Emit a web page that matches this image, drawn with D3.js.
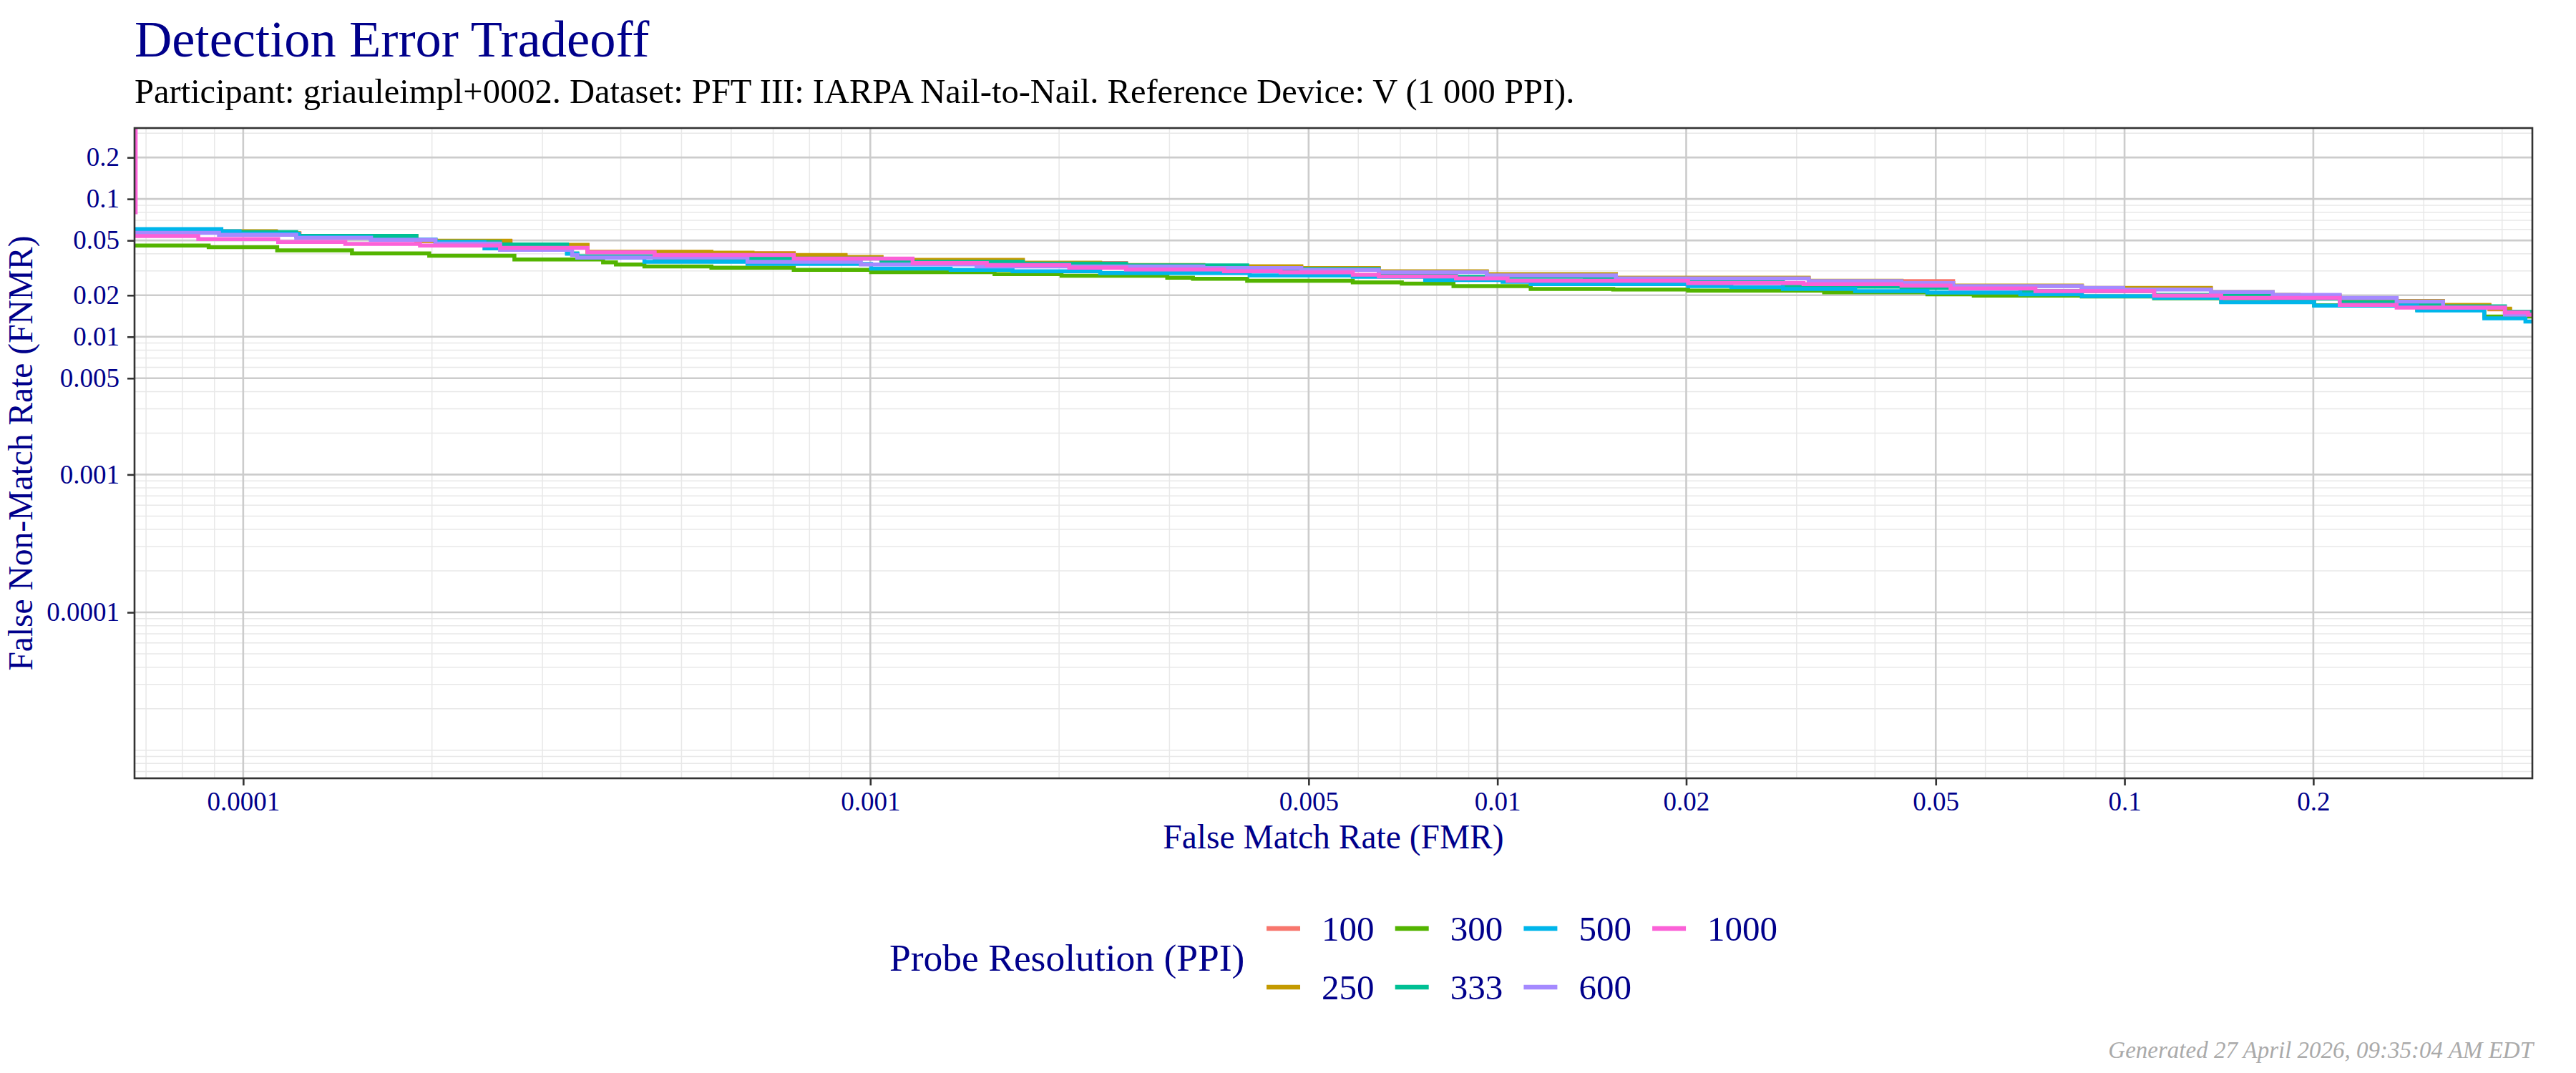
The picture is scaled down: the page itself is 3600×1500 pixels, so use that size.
<!DOCTYPE html>
<html>
<head>
<meta charset="utf-8">
<script src="https://cdn.jsdelivr.net/npm/d3@7"></script>
<style>
  body { margin: 0; background: #fff; }
  svg text { font-family: "Liberation Serif", "Times New Roman", serif; }
</style>
</head>
<body>
<div id="chart"></div>
<script>
// categories and colours (ggplot hue palette)
const probeResolutions = ["100", "250", "300", "333", "500", "600", "1000"];
const seriesColors = ["#F8766D", "#C49A00", "#53B400", "#00C094", "#00B6EB", "#A58AFF", "#FB61D7"];

// tick labels
const xTicks = [0.0001, 0.001, 0.005, 0.01, 0.02, 0.05, 0.1, 0.2];
const yTicks = [0.0001, 0.001, 0.005, 0.01, 0.02, 0.05, 0.1, 0.2];
const xDomain = [6.71e-5, 0.447];
const yDomain = [6.25e-6, 0.327];

// DET curves, [FMR, FNMR]
const det100 = [[6.72e-5,0.0592],[9.0e-5,0.0578],[1.13e-4,0.0562],[1.23e-4,0.0535],[1.89e-4,0.0494],[2.67e-4,0.0462],[3.54e-4,0.0412],[5.58e-4,0.0404],[7.55e-4,0.0390],[9.13e-4,0.0377],[1.042e-3,0.0358],[1.751e-3,0.0343],[2.557e-3,0.0329],[3.397e-3,0.0322],[4.867e-3,0.0312],[6.47e-3,0.0297],[9.62e-3,0.0283],[1.545e-2,0.0266],[3.136e-2,0.0253],[5.33e-2,0.0234],[8.55e-2,0.0224],[0.1373,0.0210],[0.1723,0.0199],[0.2204,0.0187],[0.2716,0.0180],[0.322,0.0169],[0.3818,0.0158],[0.4119,0.0149],[0.447,0.0149]];
const det250 = [[6.72e-5,0.0595],[8.98e-5,0.0583],[1.127e-4,0.0565],[1.227e-4,0.0538],[1.889e-4,0.0497],[2.667e-4,0.0465],[3.541e-4,0.0414],[5.58e-4,0.0407],[6.49e-4,0.0403],[7.55e-4,0.0392],[9.13e-4,0.0379],[1.042e-3,0.0361],[1.751e-3,0.0345],[2.326e-3,0.0338],[2.557e-3,0.0331],[3.397e-3,0.0325],[4.867e-3,0.0315],[6.47e-3,0.0299],[9.62e-3,0.0285],[1.545e-2,0.0268],[3.136e-2,0.0255],[4.41e-2,0.0245],[5.33e-2,0.0235],[8.55e-2,0.0226],[0.1373,0.0211],[0.1723,0.0201],[0.1894,0.0195],[0.2204,0.0189],[0.2716,0.0182],[0.322,0.0170],[0.3818,0.0160],[0.4119,0.0150],[0.447,0.0150]];
const det300 = [[6.72e-5,0.0459],[8.81e-5,0.0447],[1.133e-4,0.0424],[1.491e-4,0.0403],[1.98e-4,0.0387],[2.707e-4,0.0364],[3.749e-4,0.0347],[3.93e-4,0.0334],[4.363e-4,0.0324],[5.58e-4,0.0317],[7.55e-4,0.0306],[1.003e-3,0.0294],[1.578e-3,0.0285],[2.018e-3,0.0277],[2.975e-3,0.0268],[3.27e-3,0.0263],[3.99e-3,0.0255],[5.88e-3,0.0248],[7.04e-3,0.0243],[8.51e-3,0.0233],[1.13e-2,0.0222],[1.53e-2,0.0220],[2.014e-2,0.0216],[3.319e-2,0.0210],[4.849e-2,0.0203],[5.75e-2,0.0199],[8.55e-2,0.0196],[0.1115,0.0190],[0.1426,0.0179],[0.2006,0.0169],[0.2929,0.0157],[0.3747,0.0140],[0.447,0.0140]];
const det333 = [[6.72e-5,0.0595],[9.15e-5,0.0575],[1.215e-4,0.0540],[1.889e-4,0.0505],[2.026e-4,0.0488],[2.568e-4,0.0467],[3.284e-4,0.0403],[3.41e-4,0.0384],[4.531e-4,0.0369],[1.042e-3,0.0350],[1.751e-3,0.0339],[2.557e-3,0.0330],[3.99e-3,0.0310],[6.47e-3,0.0285],[8.59e-3,0.0272],[1.378e-2,0.0263],[2.014e-2,0.0251],[2.853e-2,0.0231],[4.41e-2,0.0226],[6.82e-2,0.0214],[0.1115,0.0201],[0.1723,0.0189],[0.2204,0.0178],[0.2716,0.0173],[0.322,0.0166],[0.4042,0.0152],[0.447,0.0152]];
const det500 = [[6.72e-5,0.0605],[9.23e-5,0.0583],[9.87e-5,0.0560],[1.227e-4,0.0528],[1.599e-4,0.0507],[2.026e-4,0.0488],[2.425e-4,0.0438],[2.667e-4,0.0427],[3.284e-4,0.0400],[3.41e-4,0.0376],[4.363e-4,0.0350],[6.37e-4,0.0337],[1.003e-3,0.0312],[1.343e-3,0.0306],[1.686e-3,0.0299],[2.326e-3,0.0290],[4.027e-3,0.0279],[5.88e-3,0.0272],[7.67e-3,0.0258],[1.019e-2,0.0250],[1.13e-2,0.0241],[2.014e-2,0.0233],[2.361e-2,0.0229],[2.853e-2,0.0222],[3.719e-2,0.0214],[4.849e-2,0.0209],[6.82e-2,0.0203],[8.55e-2,0.0197],[0.1115,0.0191],[0.1426,0.0178],[0.2006,0.0168],[0.2929,0.0155],[0.3747,0.0136],[0.4358,0.0129],[0.447,0.0129]];
const det600 = [[6.72e-5,0.0567],[9.15e-5,0.0549],[1.215e-4,0.0522],[1.599e-4,0.0505],[2.026e-4,0.0474],[2.568e-4,0.0427],[3.346e-4,0.0392],[3.41e-4,0.0376],[6.37e-4,0.0350],[9.66e-4,0.0334],[1.477e-3,0.0324],[3.397e-3,0.0315],[4.867e-3,0.0306],[6.47e-3,0.0294],[9.62e-3,0.0279],[1.545e-2,0.0265],[3.136e-2,0.0253],[4.41e-2,0.0245],[5.33e-2,0.0233],[8.55e-2,0.0226],[9.95e-2,0.0220],[0.1373,0.0211],[0.1723,0.0201],[0.2204,0.0191],[0.2716,0.0180],[0.322,0.0163],[0.4042,0.0145],[0.447,0.0145]];
const det1000 = [[6.60e-5,0.5],[6.738e-5,0.080],[6.60e-5,0.0538],[8.48e-5,0.0511],[1.137e-4,0.0488],[1.455e-4,0.0472],[1.914e-4,0.0459],[2.568e-4,0.0441],[3.541e-4,0.0410],[4.531e-4,0.0392],[7.55e-4,0.0369],[1.168e-3,0.0343],[1.534e-3,0.0331],[2.076e-3,0.0317],[2.557e-3,0.0308],[3.664e-3,0.0299],[4.511e-3,0.0293],[5.88e-3,0.0282],[6.47e-3,0.0274],[8.59e-3,0.0265],[1.038e-2,0.0255],[2.014e-2,0.0245],[3.077e-2,0.0241],[4.41e-2,0.0235],[5.279e-2,0.0224],[7.21e-2,0.0214],[0.1115,0.0199],[0.1426,0.0191],[0.2204,0.0170],[0.2716,0.0163],[0.4042,0.0150],[0.440,0.0145],[0.447,0.0145]];
const allSeries = [det100, det250, det300, det333, det500, det600, det1000];

function render(){
  let width = 3600, height = 1500,
      margin = { top:179, left:188, right:61, bottom:412 },
      innerWidth = width - margin.left - margin.right,
      innerHeight = height - margin.top - margin.bottom;
  const navy = "#00008B";

  let svg = d3.select("#chart").append("svg")
    .attr("width", width).attr("height", height)
    .style("background", "#fff")

  // titles
  svg.append("text").attr("x", 188).attr("y", 79).text("Detection Error Tradeoff")
    .attr("font-size", 72.5).attr("fill", navy)
  svg.append("text").attr("x", 188).attr("y", 144)
    .text("Participant: griauleimpl+0002. Dataset: PFT III: IARPA Nail-to-Nail. Reference Device: V (1 000 PPI).")
    .attr("font-size", 48.5).attr("fill", "#000")

  let xScale = d3.scaleLog().domain(xDomain).range([0, innerWidth])
  let yScale = d3.scaleLog().domain(yDomain).range([innerHeight, 0])

  let g = svg.append("g").attr("transform", `translate(${margin.left},${margin.top})`)

  // grid: minor at k*10^n, major at labelled ticks
  function gridValues(dom, major){
    let out = []
    for (let e = -7; e <= 0; e++)
      for (let k = 1; k <= 9; k++){
        let v = +(k * Math.pow(10, e)).toPrecision(3)
        if (v >= dom[0] && v <= dom[1] && major.indexOf(v) < 0) out.push(v)
      }
    return out
  }
  let grid = g.append("g")
  grid.selectAll(".xminor").data(gridValues(xDomain, xTicks)).enter().append("line")
    .attr("x1", d => xScale(d)).attr("x2", d => xScale(d)).attr("y1", 0).attr("y2", innerHeight)
    .attr("stroke", "#E8E8E8").attr("stroke-width", 1.5)
  grid.selectAll(".yminor").data(gridValues(yDomain, yTicks)).enter().append("line")
    .attr("y1", d => yScale(d)).attr("y2", d => yScale(d)).attr("x1", 0).attr("x2", innerWidth)
    .attr("stroke", "#E8E8E8").attr("stroke-width", 1.5)
  grid.selectAll(".xmajor").data(xTicks).enter().append("line")
    .attr("x1", d => xScale(d)).attr("x2", d => xScale(d)).attr("y1", 0).attr("y2", innerHeight)
    .attr("stroke", "#CCCCCC").attr("stroke-width", 2.6)
  grid.selectAll(".ymajor").data(yTicks).enter().append("line")
    .attr("y1", d => yScale(d)).attr("y2", d => yScale(d)).attr("x1", 0).attr("x2", innerWidth)
    .attr("stroke", "#CCCCCC").attr("stroke-width", 2.6)

  svg.append("defs").append("clipPath").attr("id", "clip")
    .append("rect").attr("width", innerWidth).attr("height", innerHeight)

  let line = d3.line()
    .x(d => xScale(d[0]))
    .y(d => yScale(d[1]))
    .curve(d3.curveStepAfter)

  g.append("g").attr("clip-path", "url(#clip)")
    .selectAll("path").data(allSeries).enter().append("path")
    .attr("d", d => line(d))
    .attr("fill", "none")
    .attr("stroke", (d, i) => seriesColors[i])
    .attr("stroke-width", 5.5)

  g.append("rect").attr("width", innerWidth).attr("height", innerHeight)
    .attr("fill", "none").attr("stroke", "#333").attr("stroke-width", 2.6)

  let fmt = d => String(d)
  let xAxis = d3.axisBottom(xScale).tickValues(xTicks).tickFormat(fmt).tickSize(10).tickPadding(9)
  let yAxis = d3.axisLeft(yScale).tickValues(yTicks).tickFormat(fmt).tickSize(10).tickPadding(11)
  let xGroup = g.append("g").attr("transform", `translate(0,${innerHeight})`).call(xAxis)
  let yGroup = g.append("g").call(yAxis)
  ;[xGroup, yGroup].forEach(a => {
    a.select(".domain").remove()
    a.selectAll(".tick line").attr("stroke", "#333").attr("stroke-width", 2.6)
    a.selectAll(".tick text").attr("font-size", 37).attr("fill", navy)
      .style("font-family", '"Liberation Serif", serif')
  })

  // axis titles
  svg.append("text").attr("x", margin.left + innerWidth / 2).attr("y", 1186)
    .attr("text-anchor", "middle").attr("font-size", 47.5).attr("fill", navy)
    .text("False Match Rate (FMR)")
  svg.append("text").attr("transform", `translate(45,${margin.top + innerHeight / 2}) rotate(-90)`)
    .attr("text-anchor", "middle").attr("font-size", 47.5).attr("fill", navy)
    .text("False Non-Match Rate (FNMR)")

  // legend
  let legend = svg.append("g")
  legend.append("text").attr("x", 1243).attr("y", 1357).attr("font-size", 53.5).attr("fill", navy)
    .text("Probe Resolution (PPI)")
  let items = legend.selectAll(".item").data(probeResolutions).enter().append("g")
    .attr("transform", (d, i) => `translate(${1770 + Math.floor(i / 2) * 179.7},${1298 + (i % 2) * 82})`)
  items.append("line").attr("x1", 0).attr("x2", 47).attr("y1", 0).attr("y2", 0)
    .attr("stroke", (d, i) => seriesColors[i]).attr("stroke-width", 6.5)
  items.append("text").attr("x", 77).attr("y", 0).attr("dy", "0.35em")
    .attr("font-size", 49).attr("fill", navy).text(d => d)

  svg.append("text").attr("x", 3540).attr("y", 1479).attr("text-anchor", "end")
    .attr("font-size", 33).attr("font-style", "italic").attr("fill", "#AAAAAA")
    .text("Generated 27 April 2026, 09:35:04 AM EDT")
}
render()
</script>
</body>
</html>
